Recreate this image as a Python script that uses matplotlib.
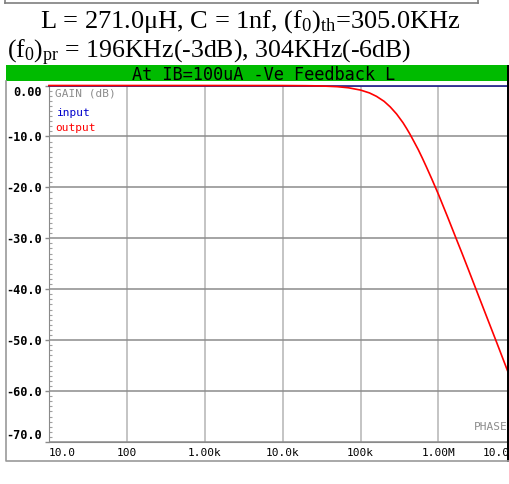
"""Gain plot of the -Ve feedback L stage, redrawn from the analyser screenshot."""

import matplotlib

matplotlib.use("Agg")

import matplotlib.pyplot as plt
from matplotlib.lines import Line2D
from matplotlib.patches import Rectangle

# values
freq_hz = [10, 1e3, 1e4, 2e4, 3e4, 5e4, 7e4, 1e5, 1.3e5, 1.6e5, 2e5, 2.4e5,
           2.9e5, 3.5e5, 3.9e5, 4.3e5, 4.8e5, 5.5e5, 6.2e5, 7e5, 8.2e5, 1e6,
           1.15e6, 1.3e6, 1.7e6, 2e6, 2.4e6, 3.1e6, 4.3e6, 5.5e6, 7.6e6, 8.3e6]
output_db = [0.0, 0.0, -0.01, -0.04, -0.08, -0.23, -0.45, -0.9, -1.46, -2.13,
             -3.1, -4.2, -5.6, -7.3, -8.45, -9.55, -10.9, -12.6, -14.25, -16.0,
             -18.35, -21.4, -23.7, -25.7, -30.2, -32.9, -36.0, -40.4, -46.0,
             -50.2, -55.8, -57.3]
input_freq_hz = [10, 1e7]
input_db = [0.0, 0.0]

x_ticks = [10, 100, 1e3, 1e4, 1e5, 1e6, 1e7]
x_labels = ["10.0", "100", "1.00k", "10.0k", "100k", "1.00M", "10.0M"]
y_ticks = [0, -10, -20, -30, -40, -50, -60, -70]
y_labels = ["0.00", "-10.0", "-20.0", "-30.0", "-40.0", "-50.0", "-60.0", "-70.0"]

W, H = 510, 484
MONO = "DejaVu Sans Mono"

plt.rcParams["mathtext.fontset"] = "custom"
plt.rcParams["mathtext.rm"] = "Liberation Serif"
plt.rcParams["mathtext.it"] = "Liberation Serif:italic"


def fx(x):
    return x / W


def fy(y):
    return 1 - y / H


fig = plt.figure(figsize=(W / 100, H / 100), dpi=100)

# remains of the caption box at the very top
for xs, ys in (([5, 478], [3, 3]), ([5, 5], [0, 3]), ([478, 478], [0, 3])):
    fig.add_artist(Line2D([fx(v) for v in xs], [fy(v) for v in ys],
                          color="#7f7f7f", lw=1.2))

serif = "Liberation Serif"
fig.text(fx(250), fy(28), r"L = 271.0μH, C = 1nf, (f$_0$)$_{\rm th}$=305.0KHz",
         family=serif, fontsize=19, ha="center", va="baseline")
fig.text(fx(7), fy(58.5), r"(f$_0$)$_{\rm pr}$ = 196KHz(-3dB), 304KHz(-6dB)",
         family=serif, fontsize=18.5, ha="left", va="baseline")

# green title bar and the screen frame
fig.add_artist(Rectangle((fx(6), fy(81)), fx(502), 16 / H, color="#00bb00", lw=0))
fig.text(fx(264), fy(74.5), "At IB=100uA -Ve Feedback L", family=MONO,
         fontsize=12.2, ha="center", va="center", color="black")
fig.add_artist(Line2D([fx(6), fx(6), fx(510)], [fy(81), fy(461), fy(461)],
                      color="#9a9a9a", lw=1.2))

ax = fig.add_axes([fx(49), fy(442), (516.4 - 49) / W, (442 - 85.5) / H])
ax.set_xscale("log")
ax.set_xlim(10, 1e7)
ax.set_ylim(-70, 0)

ax.plot(input_freq_hz, input_db, color="#1c1c8a", lw=1.2, clip_on=False, zorder=4)
ax.plot(freq_hz, output_db, color="#ff0000", lw=1.2, clip_on=False, zorder=5)

ax.set_xticks(x_ticks, x_labels)
ax.xaxis.set_minor_locator(matplotlib.ticker.NullLocator())
ax.tick_params(axis="x", length=0, pad=4, labelsize=8)
for lab in ax.get_xticklabels():
    lab.set_family(MONO)
ax.get_xticklabels()[0].set_ha("left")
ax.get_xticklabels()[-1].set_ha("right")

ax.set_yticks(y_ticks, y_labels)
ax.set_yticks([v for v in range(-70, 1) if v % 10], minor=True)
ax.tick_params(axis="y", which="major", length=3, width=1, color="#8a8a8a",
               pad=2, labelsize=8.6)
ax.tick_params(axis="y", which="minor", length=2, width=0.8, color="#a0a0a0",
               direction="in")
for lab in ax.get_yticklabels():
    lab.set_family(MONO)
    lab.set_weight("bold")
ax.get_yticklabels()[0].set_va("top")
ax.get_yticklabels()[-1].set_va("bottom")

ax.grid(axis="x", color="#b4b4b4", lw=1.1)
ax.grid(axis="y", color="#8c8c8c", lw=1.1)
ax.set_axisbelow(True)
for side in ("left", "bottom"):
    ax.spines[side].set_color("#8a8a8a")
ax.spines["top"].set_visible(False)
ax.spines["right"].set_visible(False)

fig.text(fx(55), fy(93), "GAIN (dB)", family=MONO, fontsize=8,
         color="#8c8c8c", va="center")
fig.text(fx(57), fy(113), "input", family=MONO, fontsize=8,
         color="#0000cc", va="center")
fig.text(fx(55), fy(128), "output", family=MONO, fontsize=8,
         color="#ff0000", va="center")
fig.text(fx(474), fy(427), "PHASE", family=MONO, fontsize=8,
         color="#8c8c8c", va="center")

# dark strip at the cut-off right edge
fig.add_artist(Rectangle((fx(507), fy(462)), fx(3), 397 / H, color="black", lw=0))

fig.savefig("out.png", dpi=100)
